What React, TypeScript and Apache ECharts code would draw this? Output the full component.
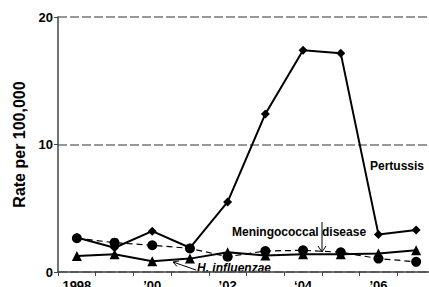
import React, { useEffect, useRef } from "react";
import * as echarts from "echarts";

const years = ["1998", "1999", "2000", "2001", "2002", "2003", "2004", "2005", "2006", "2007"];
const yearLabels: Record<string, string> = {
  "1998": "1998",
  "2000": "\u201900",
  "2002": "\u201902",
  "2004": "\u201804",
  "2006": "\u201906",
};
const pertussis = [2.7, 1.9, 3.2, 1.9, 5.5, 12.4, 17.4, 17.15, 2.95, 3.3];
const meningococcal = [2.65, 2.3, 2.1, 1.85, 1.2, 1.65, 1.7, 1.55, 1.05, 0.8];
const hInfluenzae = [1.25, 1.4, 0.85, 1.05, 1.55, 1.3, 1.4, 1.4, 1.45, 1.7];

const FONT = "'Liberation Sans', Arial, sans-serif";

export default function App() {
  const ref = useRef<HTMLDivElement>(null);
  useEffect(() => {
    if (!ref.current) return;
    const chart = echarts.init(ref.current, undefined, { renderer: "svg" });
    chart.setOption({
      animation: false,
      backgroundColor: "#ffffff",
      grid: { left: 58, top: 17, width: 377, bottom: 15, containLabel: false, outerBoundsMode: "none" },
      xAxis: {
        type: "category",
        data: years,
        boundaryGap: true,
        axisLine: { lineStyle: { color: "#444", width: 1.5 } },
        axisTick: { show: true, interval: 0, length: 4, lineStyle: { color: "#444", width: 1 } },
        axisLabel: {
          interval: 0,
          margin: 7,
          color: "#000",
          fontFamily: FONT,
          fontWeight: "bold",
          fontSize: 13,
          formatter: (v: string) => yearLabels[v] ?? "",
        },
        splitLine: { show: false },
      },
      yAxis: {
        type: "value",
        min: 0,
        max: 20,
        interval: 10,
        name: "Rate per 100,000",
        nameLocation: "middle",
        nameGap: 30,
        nameTextStyle: { fontFamily: FONT, fontWeight: "bold", fontSize: 16, color: "#000" },
        axisLine: { show: true, lineStyle: { color: "#444", width: 1.5 } },
        axisTick: { show: true, length: 4, lineStyle: { color: "#444", width: 1 } },
        axisLabel: { margin: 5, color: "#000", fontFamily: FONT, fontWeight: "bold", fontSize: 13 },
        splitLine: { show: true, lineStyle: { color: "#777", width: 1.5, type: [9, 3] } },
      },
      series: [
        {
          name: "Pertussis",
          type: "line",
          data: pertussis,
          symbol: "diamond",
          symbolSize: 9,
          lineStyle: { color: "#000", width: 2 },
          itemStyle: { color: "#000" },
          z: 3,
        },
        {
          name: "H. influenzae",
          type: "line",
          data: hInfluenzae,
          symbol: "triangle",
          symbolSize: 10,
          lineStyle: { color: "#000", width: 2 },
          itemStyle: { color: "#000" },
          z: 4,
        },
        {
          name: "Meningococcal disease",
          type: "line",
          data: meningococcal,
          symbol: "circle",
          symbolSize: 10,
          lineStyle: { color: "#000", width: 1.2, type: [6, 4] },
          itemStyle: { color: "#000" },
          z: 5,
        },
      ],
      graphic: [
        {
          type: "text",
          x: 370,
          y: 160,
          style: { text: "Pertussis", fontFamily: FONT, fontWeight: "bold", fontSize: 12, fill: "#000" },
        },
        {
          type: "text",
          x: 232,
          y: 226,
          style: { text: "Meningococcal disease", fontFamily: FONT, fontWeight: "bold", fontSize: 12, fill: "#000" },
        },
        {
          type: "line",
          shape: { x1: 322, y1: 222, x2: 322, y2: 252 },
          style: { stroke: "#000", lineWidth: 1 },
        },
        {
          type: "polyline",
          shape: { points: [[318, 246], [322, 252], [326, 246]] },
          style: { stroke: "#000", lineWidth: 1, fill: null },
        },
        {
          type: "text",
          x: 197,
          y: 262,
          style: {
            text: "H. influenzae",
            fontFamily: FONT,
            fontWeight: "bold",
            fontStyle: "italic",
            fontSize: 12,
            fill: "#000",
          },
        },
        {
          type: "line",
          shape: { x1: 196, y1: 270, x2: 173, y2: 262 },
          style: { stroke: "#000", lineWidth: 1 },
        },
        {
          type: "polyline",
          shape: { points: [[177, 266.5], [173, 262], [179, 261]] },
          style: { stroke: "#000", lineWidth: 1, fill: null },
        },
      ],
    });
    return () => chart.dispose();
  }, []);
  return (
    <div
      ref={ref}
      style={{ position: "absolute", left: 0, top: 0, width: 429, height: 287 }}
    />
  );
}
